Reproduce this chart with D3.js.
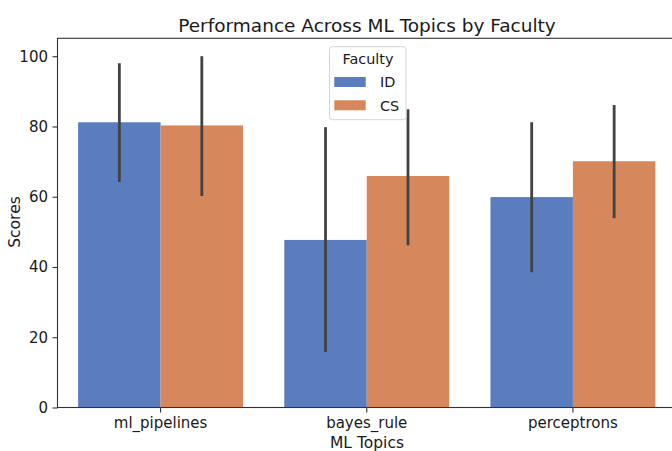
<!DOCTYPE html>
<html><head><meta charset="utf-8">
<script src="https://cdn.jsdelivr.net/npm/d3@7"></script>
<style>body{margin:0;background:#fff}svg{display:block}text{font-family:"DejaVu Sans",sans-serif;fill:#1a1a1a}</style>
</head><body><svg id="c" width="672" height="451"></svg>
<script>
const categories = ["ml_pipelines", "bayes_rule", "perceptrons"];
const faculties = ["ID", "CS"];
const idValues = [81.2, 47.7, 59.9];
const csValues = [80.3, 65.9, 70.1];
const idLow = [64.2, 15.8, 38.5];
const idHigh = [98.0, 79.8, 81.2];
const csLow = [60.2, 46.2, 53.9];
const csHigh = [100.0, 84.9, 86.1];
const yTicks = [0, 20, 40, 60, 80, 100];
const colors = ["#5a7dbf", "#d6875b"];

const rows = [];
categories.forEach((c, i) => {
  rows.push({cat: c, fac: "ID", v: idValues[i], lo: idLow[i], hi: idHigh[i]});
  rows.push({cat: c, fac: "CS", v: csValues[i], lo: csLow[i], hi: csHigh[i]});
});

const svg = d3.select("#c");
const L = 57.5, R = 676, T = 38.3, B = 407.5;
const x = d3.scaleBand().domain(categories).range([L, R]).paddingInner(0.2).paddingOuter(0.1);
const xs = d3.scaleBand().domain(faculties).range([0, x.bandwidth()]);
const y = d3.scaleLinear().domain([0, 105.1]).range([B, T]);
const color = d3.scaleOrdinal().domain(faculties).range(colors);

svg.append("g").selectAll("rect").data(rows).join("rect")
  .attr("x", d => x(d.cat) + xs(d.fac))
  .attr("y", d => y(d.v))
  .attr("width", xs.bandwidth())
  .attr("height", d => y(0) - y(d.v))
  .attr("fill", d => color(d.fac));

svg.append("g").selectAll("line").data(rows).join("line")
  .attr("x1", d => x(d.cat) + xs(d.fac) + xs.bandwidth() / 2)
  .attr("x2", d => x(d.cat) + xs(d.fac) + xs.bandwidth() / 2)
  .attr("y1", d => y(d.lo)).attr("y2", d => y(d.hi))
  .attr("stroke", "#424242").attr("stroke-width", 2.8);

// axes
const yAxis = svg.append("g").attr("transform", `translate(${L},0)`)
  .call(d3.axisLeft(y).tickValues(yTicks).tickSize(5).tickPadding(4.5));
const xAxis = svg.append("g").attr("transform", `translate(0,${B})`)
  .call(d3.axisBottom(x).tickSize(5).tickPadding(4.5));
[yAxis, xAxis].forEach(g => {
  g.select(".domain").remove();
  g.selectAll("line").attr("stroke", "#333").attr("stroke-width", 1.1);
  g.selectAll("text").style("font-size", "15px").attr("fill", "#1a1a1a");
});

// spines
svg.append("rect").attr("x", L).attr("y", T).attr("width", R - L).attr("height", B - T)
  .attr("fill", "none").attr("stroke", "#333").attr("stroke-width", 1.1);

svg.append("text").attr("x", 367).attr("y", 31.5).attr("text-anchor", "middle")
  .style("font-size", "18.5px").text("Performance Across ML Topics by Faculty");
svg.append("text").attr("x", 367).attr("y", 448).attr("text-anchor", "middle")
  .style("font-size", "15.5px").text("ML Topics");
svg.append("text").attr("transform", "translate(20,222) rotate(-90)").attr("text-anchor", "middle")
  .style("font-size", "15.5px").text("Scores");

// legend
const lg = svg.append("g");
lg.append("rect").attr("x", 329.5).attr("y", 46.7).attr("width", 76.5).attr("height", 73).attr("rx", 3)
  .attr("fill", "#fff").attr("fill-opacity", 0.85).attr("stroke", "#d6d6d6");
lg.append("text").attr("x", 368).attr("y", 64.3).attr("text-anchor", "middle").style("font-size", "14.4px").text("Faculty");
faculties.forEach((f, i) => {
  lg.append("rect").attr("x", 334.3).attr("y", 77 + i * 23.3).attr("width", 31.4).attr("height", 10).attr("fill", color(f));
  lg.append("text").attr("x", 380).attr("y", 87 + i * 23.7).style("font-size", "14.4px").text(f);
});
</script></body></html>
